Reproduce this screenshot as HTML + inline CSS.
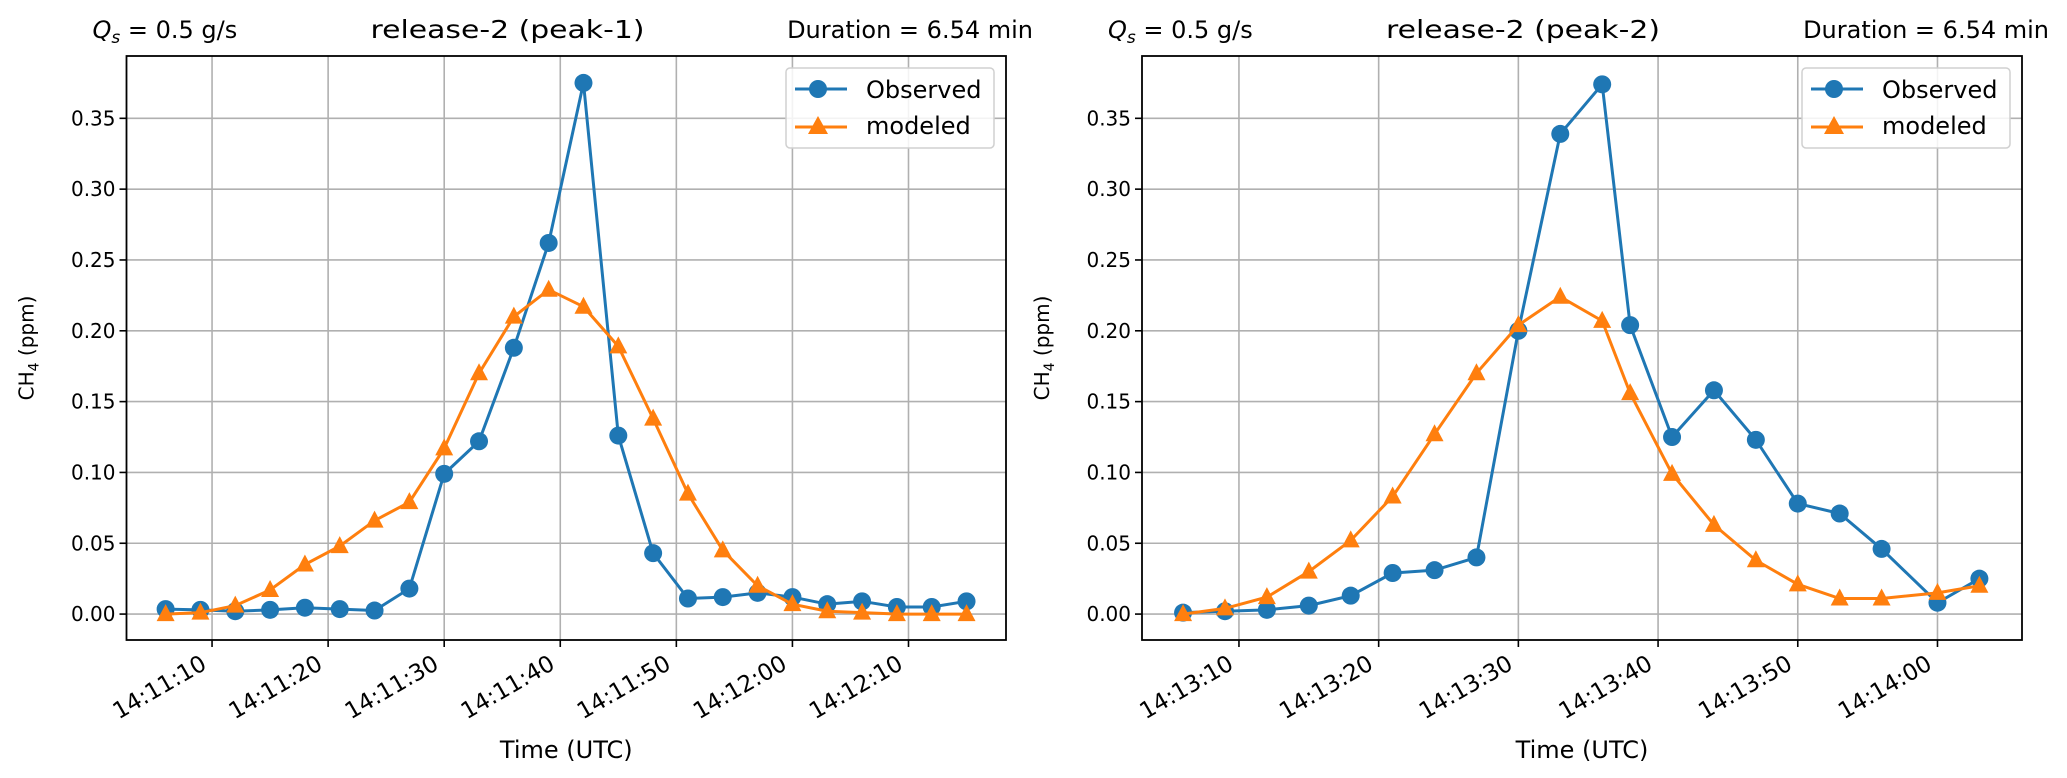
<!DOCTYPE html>
<html><head><meta charset="utf-8"><style>
body{margin:0;background:#fff}
svg{display:block;font-family:"DejaVu Sans","Liberation Sans",sans-serif}
</style></head><body>
<svg id="fig" width="2067" height="778" viewBox="0 0 2067 778"></svg>
<script>
const leftTimes=[6,9,12,15,18,21,24,27,30,33,36,39,42,45,48,51,54,57,60,63,66,69,72,75];
const leftObserved=[0.0035,0.003,0.002,0.003,0.0045,0.0035,0.0025,0.018,0.099,0.122,0.188,0.262,0.375,0.126,0.043,0.011,0.012,0.015,0.012,0.007,0.009,0.005,0.005,0.009];
const leftModeled=[0,0.001,0.006,0.017,0.035,0.048,0.066,0.079,0.117,0.170,0.210,0.229,0.217,0.189,0.138,0.085,0.045,0.020,0.007,0.002,0.001,0,0,0];
const leftTickLabels=["14:11:10","14:11:20","14:11:30","14:11:40","14:11:50","14:12:00","14:12:10"];
const leftTickSecs=[10,20,30,40,50,60,70];
const rightTimes=[6,9,12,15,18,21,24,27,30,33,36,38,41,44,47,50,53,56,60,63];
const rightObserved=[0.001,0.002,0.003,0.006,0.013,0.029,0.031,0.040,0.200,0.339,0.374,0.204,0.125,0.158,0.123,0.078,0.071,0.046,0.008,0.025];
const rightModeled=[0,0.004,0.012,0.030,0.052,0.083,0.127,0.170,0.204,0.224,0.207,0.156,0.099,0.063,0.038,0.021,0.011,0.011,0.015,0.020];
const rightTickLabels=["14:13:10","14:13:20","14:13:30","14:13:40","14:13:50","14:14:00"];
const rightTickSecs=[10,20,30,40,50,60];
const yTicks=[0,0.05,0.10,0.15,0.20,0.25,0.30,0.35];
const yTickLabels=["0.00","0.05","0.10","0.15","0.20","0.25","0.30","0.35"];

const NS="http://www.w3.org/2000/svg";
const svg=document.getElementById('fig');
function mk(tag,attrs,parent,text){const e=document.createElementNS(NS,tag);for(const k in attrs)e.setAttribute(k,attrs[k]);if(text!==undefined)e.textContent=text;(parent||svg).appendChild(e);return e;}

function panel(o){
  const g=mk('g',{});
  
  
  const L=o.L,R=o.R,T=56,B=640;
  const ymin=-0.0183,ymax=0.394;
  const sx=s=>L+(s-o.xmin)/(o.xmax-o.xmin)*(R-L);
  const sy=v=>B-(v-ymin)/(ymax-ymin)*(B-T);
  o.tickSecs.forEach((s,i)=>{
    const l=mk('line',{x1:sx(s),x2:sx(s),y1:T,y2:B,stroke:'#b0b0b0','stroke-width':1.6},g);
    
    
    const tk=mk('line',{x1:sx(s),x2:sx(s),y1:B,y2:B+7,stroke:'#000','stroke-width':1.6},g);
    
    
    const ax=sx(s)-4,ay=B+28;
    const t=mk('text',{x:ax,y:ay,'font-size':23,'text-anchor':'end',transform:`rotate(-30 ${ax} ${ay})`},g,o.tickLabels[i]);
    
    
  });
  yTicks.forEach((v,i)=>{
    const l=mk('line',{x1:L,x2:R,y1:sy(v),y2:sy(v),stroke:'#b0b0b0','stroke-width':1.6},g);
    
    
    const tk=mk('line',{x1:L-7,x2:L,y1:sy(v),y2:sy(v),stroke:'#000','stroke-width':1.6},g);
    
    
    const t=mk('text',{x:L-11,y:sy(v)+7,'font-size':20,'text-anchor':'end'},g,yTickLabels[i]);
    
    
  });
  function series(times,vals,color,marker,nm){
    const sg=mk('g',{},g);
    
    
    mk('polyline',{points:times.map((s,i)=>sx(s)+','+sy(vals[i])).join(' '),fill:'none',stroke:color,'stroke-width':3},sg);
    times.forEach((s,i)=>{
      const x=sx(s),y=sy(vals[i]);
      let m;
      if(marker==='c') m=mk('ellipse',{cx:x,cy:y,rx:9,ry:9,fill:color},sg);
      else m=mk('polygon',{points:`${x},${y-10} ${x+9},${y+7} ${x-9},${y+7}`,fill:color},sg);
      
      
    });
  }
  series(o.times,o.obs,'#1f77b4','c','observed-series');
  series(o.times,o.mod,'#ff7f0e','t','modeled-series');
  const fr=mk('rect',{x:L,y:T,width:R-L,height:B-T,fill:'none',stroke:'#000','stroke-width':1.8},g);
  
  
  const lg=mk('g',{},g);
  
  
  const lx=R-220,ly=68;
  mk('rect',{x:lx,y:ly,width:208,height:80,rx:4,fill:'#fff','fill-opacity':0.85,stroke:'#d0d0d0','stroke-width':1.5},lg);
  mk('line',{x1:lx+9,x2:lx+61,y1:ly+21,y2:ly+21,stroke:'#1f77b4','stroke-width':3},lg);
  mk('circle',{cx:lx+32,cy:ly+21,r:9,fill:'#1f77b4'},lg);
  const e1=mk('text',{x:lx+80,y:ly+30,'font-size':24},lg,'Observed');
  
  
  mk('line',{x1:lx+9,x2:lx+61,y1:ly+59,y2:ly+59,stroke:'#ff7f0e','stroke-width':3},lg);
  mk('polygon',{points:`${lx+32},${ly+48} ${lx+42},${ly+66} ${lx+22},${ly+66}`,fill:'#ff7f0e'},lg);
  const e2=mk('text',{x:lx+80,y:ly+66,'font-size':24},lg,'modeled');
  
  
  const xt=mk('text',{x:(L+R)/2,y:758,'font-size':24,'text-anchor':'middle'},g,'Time (UTC)');
  
  
  const yx=L-93,yy=(T+B)/2;
  const yt=mk('text',{x:yx,y:yy,'font-size':20,'text-anchor':'middle',transform:`rotate(-90 ${yx} ${yy})`},g);
  
  
  yt.innerHTML='CH<tspan font-size="14" dy="5">4</tspan><tspan dy="-5"> (ppm)</tspan>';
  const t1=mk('text',{x:L-34,y:38,'font-size':24},g);
  t1.innerHTML='<tspan font-style="italic">Q</tspan><tspan font-style="italic" font-size="17" dy="5">s</tspan><tspan dy="-5"> = 0.5 g/s</tspan>';
  
  
  const t2=mk('text',{x:L+244,y:38,'font-size':25,textLength:274,lengthAdjust:'spacingAndGlyphs'},g,o.title);
  
  
  const t3=mk('text',{x:R+27,y:38,'font-size':24,'text-anchor':'end'},g,'Duration = 6.54 min');
  
  
}
panel({name:'left-panel',L:126.5,R:1006,xmin:2.63,xmax:78.4,times:leftTimes,obs:leftObserved,mod:leftModeled,tickSecs:leftTickSecs,tickLabels:leftTickLabels,title:'release-2 (peak-1)'});
panel({name:'right-panel',L:1142,R:2022,xmin:3.06,xmax:66.05,times:rightTimes,obs:rightObserved,mod:rightModeled,tickSecs:rightTickSecs,tickLabels:rightTickLabels,title:'release-2 (peak-2)'});
</script>
</body></html>
